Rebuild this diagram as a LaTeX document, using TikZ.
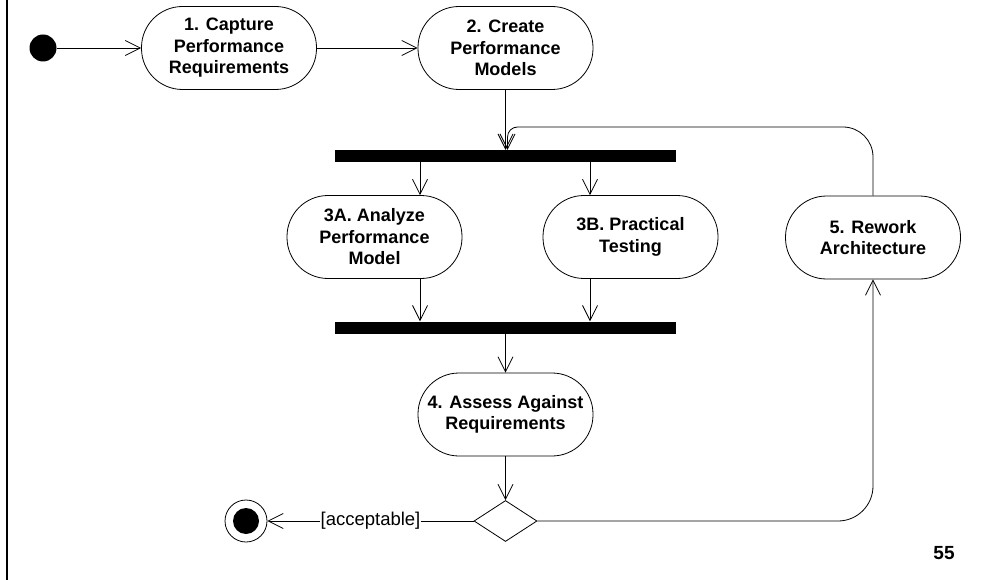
\documentclass[tikz,border=0pt]{standalone}
\usepackage{fontspec}
\setmainfont{Liberation Sans}
\usetikzlibrary{arrows.meta,shapes.geometric}
\begin{document}
\begin{tikzpicture}[x=1pt,y=-1pt,
  actividad/.style={draw,line width=0.8pt,rounded corners=41pt,minimum width=175pt,minimum height=83pt,
    inner sep=0pt,align=center,font=\fontsize{18}{21.5}\selectfont\bfseries},
  barra/.style={fill=black,minimum width=341pt,minimum height=12pt,inner sep=0pt},
  flujo/.style={line width=0.8pt,-{Straight Barb[length=15pt,width=15pt,line width=0.8pt]}},
  ]
\useasboundingbox (0,0) rectangle (1003,580);
%Margen izquierdo
\draw[line width=1.5pt] (7,0) -- (7,580);

%Nodos
\node[circle,fill=black,minimum size=27pt,inner sep=0pt] (inicio) at (43,48) {};
\node[actividad] (act1) at (229,48) {1. Capture\\Performance\\Requirements};
\node[actividad] (act2) at (505.5,48) {2. Create\\Performance\\Models};
\node[barra] (bifurca) at (505.5,156) {};
\node[actividad] (act3a) at (374.5,237) {3A. Analyze\\Performance\\Model};
\node[actividad] (act3b) at (630.5,237) {3B. Practical\\Testing};
\node[actividad] (act5) at (873,237.5) {5. Rework\\Architecture};
\node[barra] (une) at (505.5,327.5) {};
\node[actividad] (act4) at (505.5,414.5) {4. Assess Against\\Requirements};
\node[diamond,draw,line width=0.8pt,minimum width=63pt,minimum height=41pt,inner sep=0pt] (decide) at (505.5,521) {};
\node[circle,draw,line width=0.8pt,minimum size=42pt,inner sep=0pt] (fin) at (246,521) {};
\node[circle,fill=black,minimum size=26pt,inner sep=0pt] (finin) at (fin.center) {};
\node[font=\fontsize{19}{22}\selectfont\bfseries] (pagina) at (944,553) {55};

%Flujos
\draw[flujo] (inicio) -- (act1);
\draw[flujo] (act1) -- (act2);
\draw[flujo] (act2) -- (bifurca);
\draw[flujo] (act5.north) [rounded corners=30pt] -- (act5.north |- 0,127)
  [rounded corners=10pt] -- ([xshift=2pt]bifurca.north |- 0,127) -- ([xshift=2pt]bifurca.north);
\draw[flujo] ([xshift=-85.5pt]bifurca.south) -- ([xshift=45.5pt]act3a.north);
\draw[flujo] ([xshift=84.5pt]bifurca.south) -- ([xshift=-40.5pt]act3b.north);
\draw[flujo] ([xshift=45.5pt]act3a.south) -- ([xshift=-85.5pt]une.north);
\draw[flujo] ([xshift=-40.5pt]act3b.south) -- ([xshift=84.5pt]une.north);
\draw[flujo] (une) -- (act4);
\draw[flujo] (act4) -- (decide);
\draw[flujo] (decide) -- (fin) node[midway,fill=white,inner sep=1pt,font=\fontsize{18.5}{22}\selectfont] {[acceptable]};
\draw[flujo,rounded corners=35pt] (decide.east) -| (act5.south);
\end{tikzpicture}
\end{document}
